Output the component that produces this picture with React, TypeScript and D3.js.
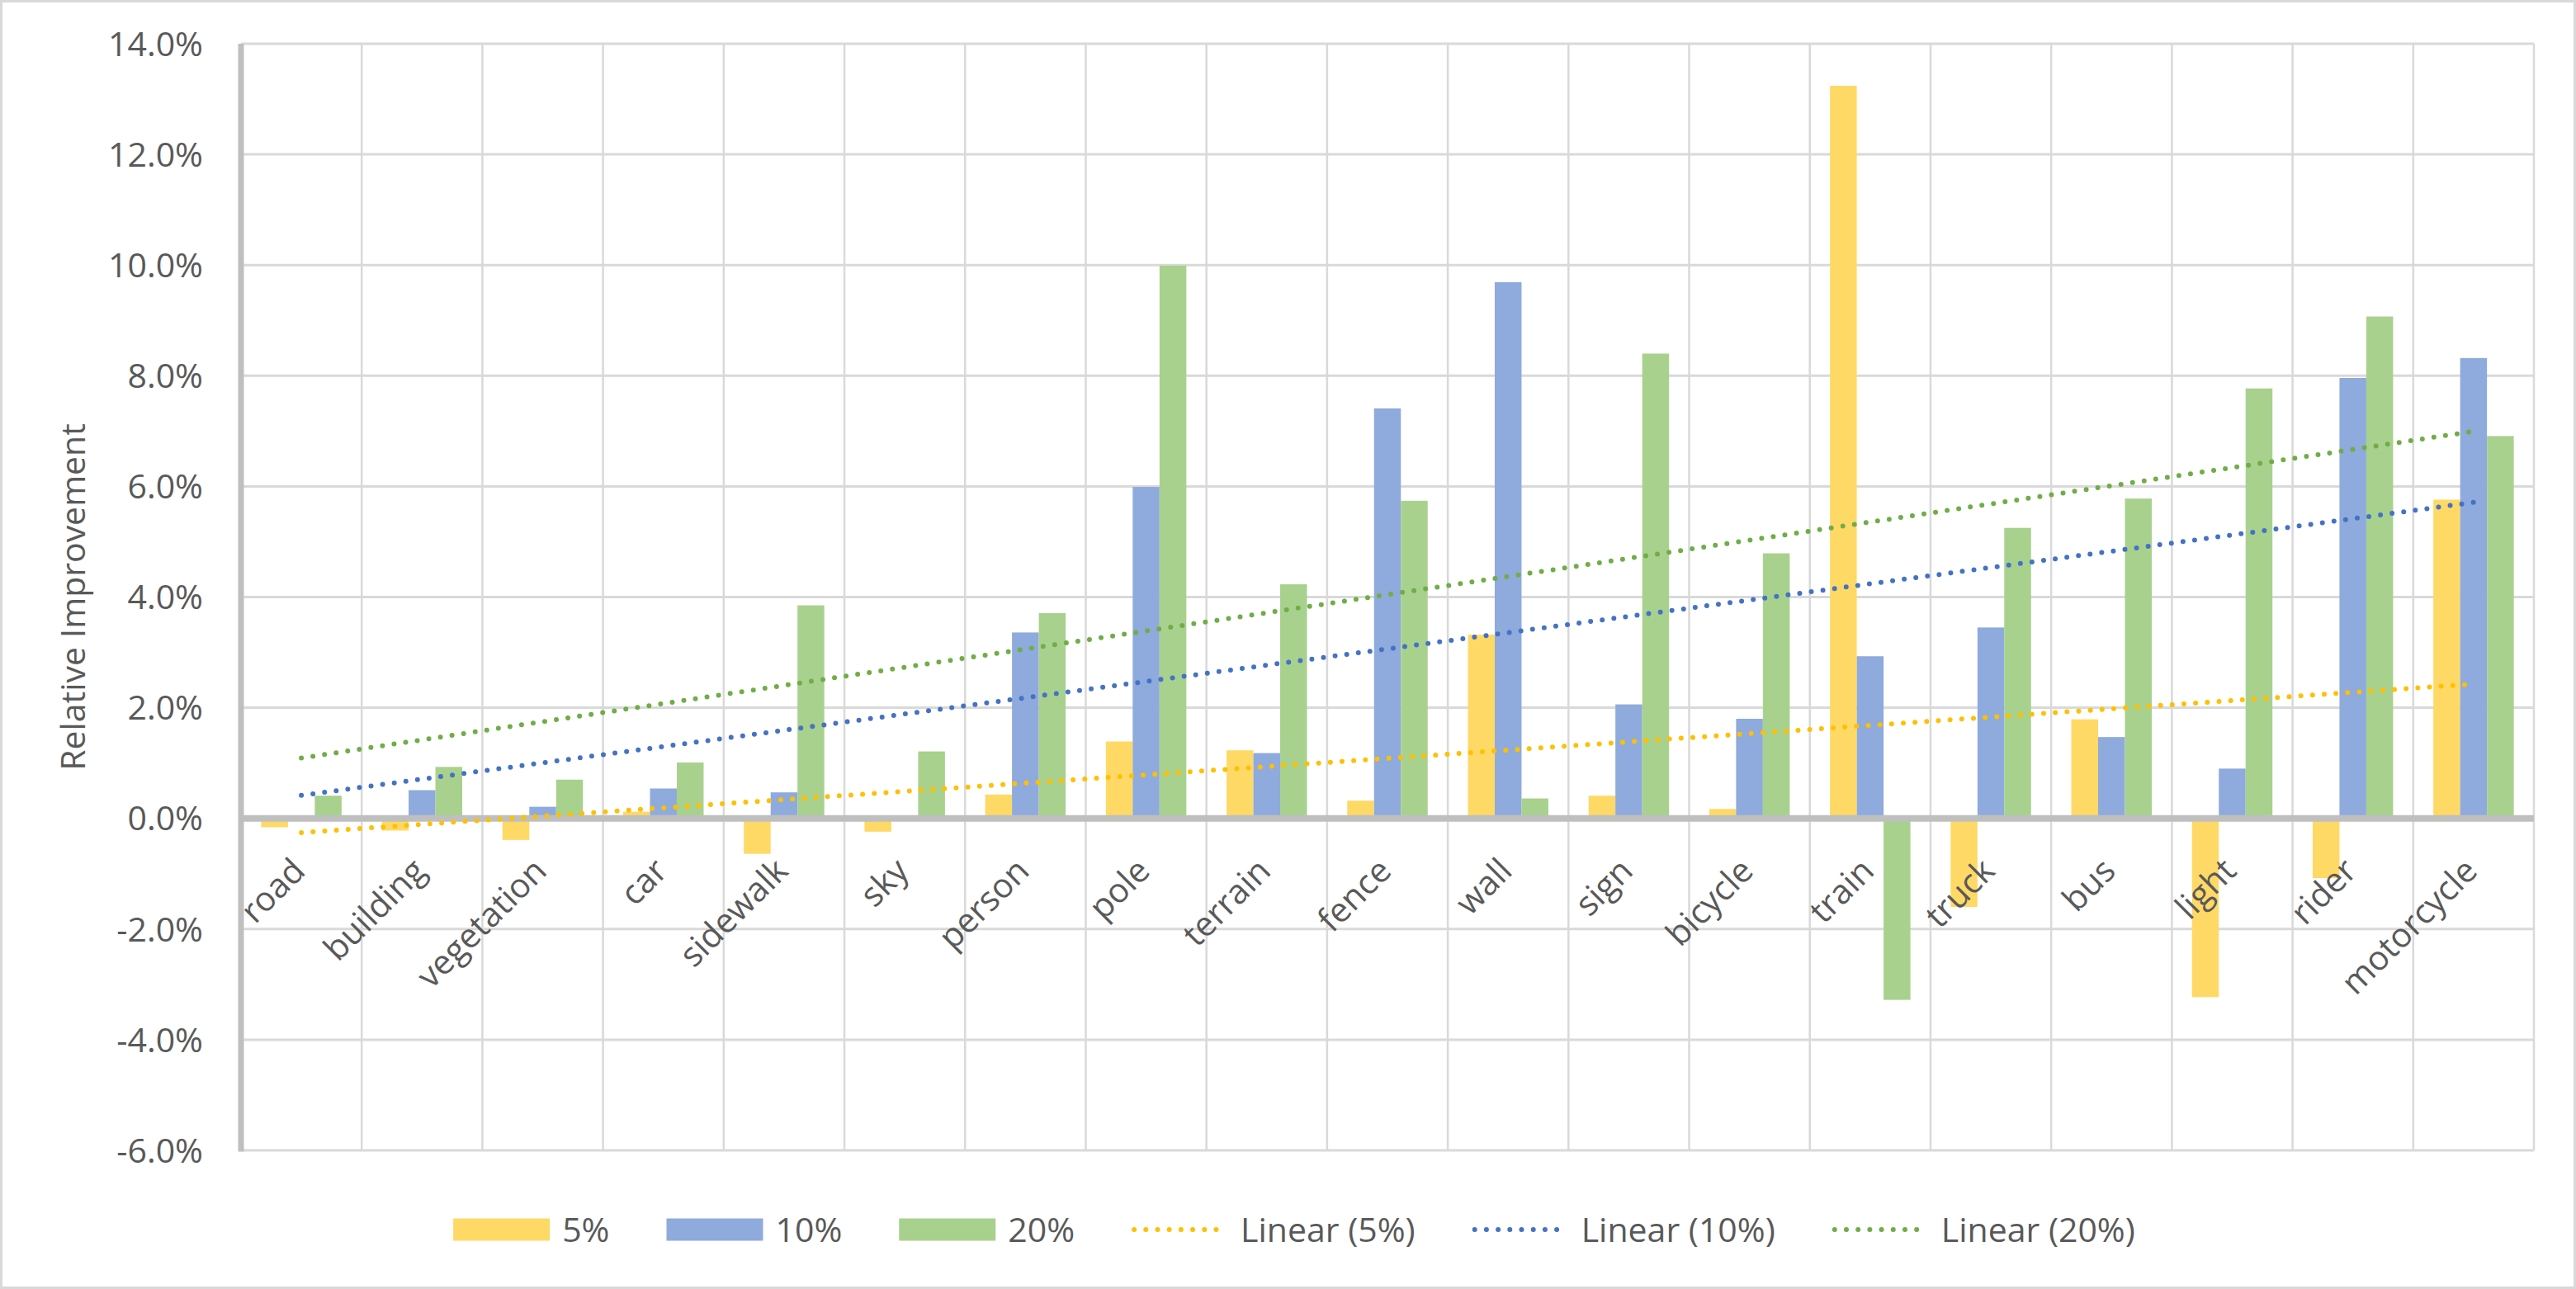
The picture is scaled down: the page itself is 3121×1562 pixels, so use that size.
import * as d3 from "d3";
import { useEffect, useRef } from "react";

const WIDTH = 3121;
const HEIGHT = 1562;
// plot area: x 292..3070, y 53..1394
const MARGIN = { top: 53, right: 51, bottom: 168, left: 292 };
const FONT = "'Open Sans', sans-serif";
const TEXT_COLOR = "#595959";

const categories = [
  "road", "building", "vegetation", "car", "sidewalk", "sky", "person", "pole",
  "terrain", "fence", "wall", "sign", "bicycle", "train", "truck", "bus",
  "light", "rider", "motorcycle",
];
const seriesNames = ["5%", "10%", "20%"];
const values5 = [-0.16, -0.22, -0.39, 0.12, -0.64, -0.24, 0.43, 1.39, 1.23, 0.32, 3.32, 0.41, 0.17, 13.24, -1.6, 1.79, -3.23, -1.08, 5.76];
const values10 = [0.0, 0.51, 0.21, 0.54, 0.47, -0.05, 3.36, 5.99, 1.18, 7.41, 9.69, 2.06, 1.8, 2.93, 3.45, 1.47, 0.9, 7.96, 8.32];
const values20 = [0.41, 0.93, 0.7, 1.01, 3.85, 1.21, 3.71, 9.99, 4.23, 5.74, 0.36, 8.4, 4.79, -3.28, 5.25, 5.78, 7.77, 9.07, 6.91];
const yTicks = [-6, -4, -2, 0, 2, 4, 6, 8, 10, 12, 14];
const trendNames = ["Linear (5%)", "Linear (10%)", "Linear (20%)"];

const BAR_COLORS = ["#FFD966", "#8FAADC", "#A9D18E"];
const TREND_COLORS = ["#FFC000", "#4472C4", "#70AD47"];

// simple least squares fit, like Excel's linear trendline
const linearFit = (ys: number[]) => {
  const xs = ys.map((_, i) => i + 1);
  const mx = d3.mean(xs) as number;
  const my = d3.mean(ys) as number;
  const sxy = d3.sum(xs, (x, i) => (x - mx) * (ys[i] - my));
  const sxx = d3.sum(xs, (x) => (x - mx) * (x - mx));
  const slope = sxy / sxx;
  return (x: number) => my + slope * (x - mx);
};

const Legend = ({ y }: { y: number }) => {
  const ref = useRef<SVGGElement | null>(null);

  useEffect(() => {
    if (!ref.current) return;
    const g = d3.select(ref.current);
    g.selectAll("*").remove();

    const items = [
      ...seriesNames.map((name, i) => ({ name, color: BAR_COLORS[i], kind: "bar" })),
      ...trendNames.map((name, i) => ({ name, color: TREND_COLORS[i], kind: "line" })),
    ];
    const swatchW = 117;
    const swatchGap = 15;
    const itemGap = 69;

    let x = 0;
    items.forEach((item) => {
      const ig = g.append("g").attr("transform", `translate(${x},0)`);
      if (item.kind === "bar") {
        ig.append("rect")
          .attr("x", 0)
          .attr("y", -13.5)
          .attr("width", swatchW)
          .attr("height", 27)
          .attr("fill", item.color);
      } else {
        ig.append("line")
          .attr("x1", 3)
          .attr("x2", swatchW - 1)
          .attr("y1", 0)
          .attr("y2", 0)
          .attr("stroke", item.color)
          .attr("stroke-width", 6)
          .attr("stroke-linecap", "round")
          .attr("stroke-dasharray", "0 14.2");
      }
      const t = ig
        .append("text")
        .attr("x", swatchW + swatchGap)
        .attr("y", 0)
        .attr("dy", "0.36em")
        .attr("font-family", FONT)
        .attr("font-size", 41)
        .attr("fill", TEXT_COLOR)
        .text(item.name);
      const tw = (t.node() as SVGTextElement).getComputedTextLength();
      x += swatchW + swatchGap + tw + itemGap;
    });
    const total = x - itemGap;
    g.attr("transform", `translate(${1568 - total / 2},${y})`);
  }, [y]);

  return <g ref={ref} />;
};

export default function App() {
  const x0 = MARGIN.left;
  const x1 = WIDTH - MARGIN.right;
  const yTop = MARGIN.top;
  const yBottom = HEIGHT - MARGIN.bottom;

  const xScale = d3.scaleBand().domain(categories).range([x0, x1]).paddingInner(0).paddingOuter(0);
  const subScale = d3
    .scaleBand()
    .domain(seriesNames)
    .range([0, xScale.bandwidth()])
    .paddingInner(0)
    .paddingOuter(0.75);
  const yScale = d3.scaleLinear().domain([-6, 14]).range([yBottom, yTop]);

  const allSeries = [values5, values10, values20];

  const grid = (
    <g>
      {yTicks.map((t) => (
        <line key={"h" + t} x1={x0} x2={x1} y1={yScale(t)} y2={yScale(t)} stroke="#d9d9d9" strokeWidth={3} />
      ))}
      {categories.map((c) => (
        <line
          key={"v" + c}
          x1={(xScale(c) as number) + xScale.bandwidth()}
          x2={(xScale(c) as number) + xScale.bandwidth()}
          y1={yTop}
          y2={yBottom}
          stroke="#d9d9d9"
          strokeWidth={2.5}
        />
      ))}
    </g>
  );

  const bars = allSeries.map((vals, si) => (
    <g key={si} fill={BAR_COLORS[si]}>
      {vals.map((v, i) => {
        const cx = (xScale(categories[i]) as number) + (subScale(seriesNames[si]) as number);
        const yv = yScale(v);
        const y0 = yScale(0);
        return (
          <rect
            key={i}
            x={cx}
            y={Math.min(yv, y0)}
            width={subScale.bandwidth()}
            height={Math.abs(yv - y0)}
          />
        );
      })}
    </g>
  ));

  const trendLine = d3
    .line<[number, number]>()
    .x((d) => d[0])
    .y((d) => d[1]);

  const trends = allSeries.map((vals, si) => {
    const fit = linearFit(vals);
    const first = 1;
    const last = vals.length;
    const pts: [number, number][] = [first, last].map((k) => [
      (xScale(categories[k - 1]) as number) + xScale.bandwidth() / 2,
      yScale(fit(k)),
    ]);
    return (
      <path
        key={si}
        d={trendLine(pts) as string}
        fill="none"
        stroke={TREND_COLORS[si]}
        strokeWidth={6}
        strokeLinecap="round"
        strokeDasharray="0 14.2"
      />
    );
  });

  const yLabels = yTicks.map((t) => (
    <text
      key={t}
      x={246}
      y={yScale(t)}
      dy="0.36em"
      textAnchor="end"
      fontFamily={FONT}
      fontSize={41}
      fill={TEXT_COLOR}
    >
      {t.toFixed(1) + "%"}
    </text>
  ));

  const xLabels = categories.map((c) => {
    const px = (xScale(c) as number) + xScale.bandwidth() / 2 + 7;
    const py = yScale(0) + 66;
    return (
      <text
        key={c}
        transform={`translate(${px},${py}) rotate(-45)`}
        textAnchor="end"
        fontFamily={FONT}
        fontSize={41}
        fill={TEXT_COLOR}
      >
        {c}
      </text>
    );
  });

  return (
    <svg
      width={WIDTH}
      height={HEIGHT}
      style={{ position: "absolute", left: 0, top: 0, background: "#fff" }}
    >
      <rect x={1.5} y={1.5} width={WIDTH - 3} height={HEIGHT - 3} fill="#fff" stroke="#d9d9d9" strokeWidth={3} />
      {grid}
      {bars}
      {/* axis lines */}
      <line x1={x0} x2={x1} y1={yScale(0)} y2={yScale(0)} stroke="#bfbfbf" strokeWidth={8} />
      <line x1={x0} x2={x0} y1={yTop} y2={yBottom + 1.5} stroke="#bfbfbf" strokeWidth={7} />
      {trends}
      {yLabels}
      {xLabels}
      <text
        transform={`translate(103,${(yTop + yBottom) / 2}) rotate(-90)`}
        textAnchor="middle"
        fontFamily={FONT}
        fontSize={41}
        fill={TEXT_COLOR}
      >
        Relative Improvement
      </text>
      <Legend y={1490} />
    </svg>
  );
}
